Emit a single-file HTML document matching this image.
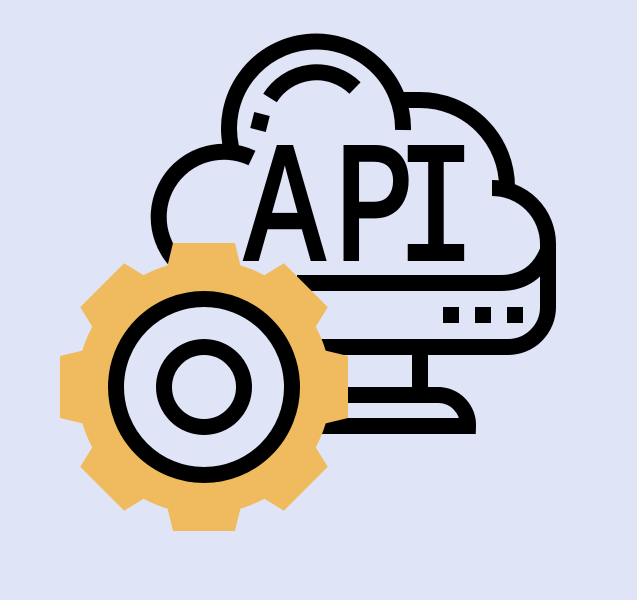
<!DOCTYPE html>
<html><head><meta charset="utf-8"><style>
html,body{margin:0;padding:0;background:#dfe5f6;}
svg{display:block}
</style></head><body>
<svg width="637" height="600" viewBox="0 0 637 600" xmlns="http://www.w3.org/2000/svg">
<rect width="637" height="600" fill="#dfe5f6"/>
<g fill="none" stroke="#000" stroke-width="16">
  <path d="M231,147 A87,87 0 1 1 403,130"/>
  <path d="M270,98 A55,55 0 0 1 355,88"/>
  <path d="M262,114 L258,130"/>
  <path d="M252,158 A65,65 0 1 0 196,276"/>
  <path d="M403,100 L420,100 A87,87 0 0 1 507,187"/>
  <path d="M492,188 A56,56 0 0 1 548,244 L548,307 A40,40 0 0 1 508,347 L300,347"/>
  <path d="M297,283 L500,283 Q535,283 548,250"/>
  <path d="M420,347 L420,395"/>
  <path d="M300,395 L438,395 A30,30 0 0 1 468,426 L300,426"/>
</g>
<rect x="404" y="92" width="8" height="16" fill="#000"/>
<g fill="#000">
  <rect x="443" y="307" width="16" height="16"/>
  <rect x="475" y="307" width="16" height="16"/>
  <rect x="507" y="307" width="16" height="16"/>
</g>
<g transform="scale(0.78,1)">
<text y="259" font-family="Liberation Mono, monospace" font-size="170" fill="#000" stroke="#000" stroke-width="4" text-anchor="middle"><tspan x="365">A</tspan><tspan x="480">P</tspan><tspan x="559">I</tspan></text>
</g>
<g transform="translate(204,387)">
  <circle r="127" fill="#f0bb5e"/>
  <g fill="#f0bb5e">
    <polygon points="-31,-144 31,-144 38,-115 -38,-115"/>
    <polygon points="-31,-144 31,-144 38,-115 -38,-115" transform="rotate(45)"/>
    <polygon points="-31,-144 31,-144 38,-115 -38,-115" transform="rotate(90)"/>
    <polygon points="-31,-144 31,-144 38,-115 -38,-115" transform="rotate(135)"/>
    <polygon points="-31,-144 31,-144 38,-115 -38,-115" transform="rotate(180)"/>
    <polygon points="-31,-144 31,-144 38,-115 -38,-115" transform="rotate(225)"/>
    <polygon points="-31,-144 31,-144 38,-115 -38,-115" transform="rotate(270)"/>
    <polygon points="-31,-144 31,-144 38,-115 -38,-115" transform="rotate(315)"/>
  </g>
  <circle r="88" fill="#dfe5f6" stroke="#000" stroke-width="16"/>
  <circle r="40" fill="none" stroke="#000" stroke-width="16"/>
</g>
</svg>
</body></html>
